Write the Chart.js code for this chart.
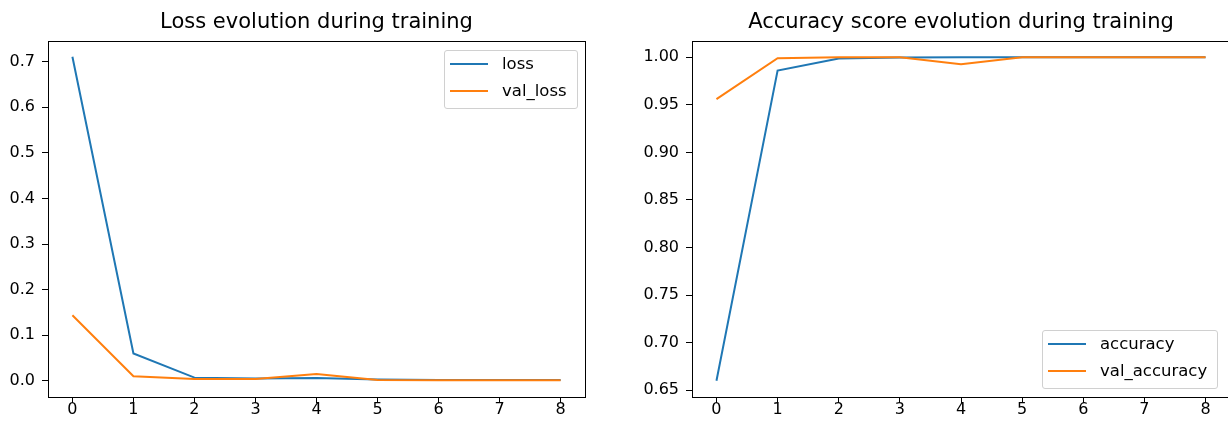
<!DOCTYPE html>
<html>
<head>
<meta charset="utf-8">
<script src="https://cdn.jsdelivr.net/npm/chart.js@4"></script>
<style>
    body { margin: 0; width: 1228px; height: 425px; overflow: hidden; background: #fff; position: relative; font-family: "DejaVu Sans", sans-serif; }
    canvas { position: absolute; top: 0; }
    .legend { position: absolute; border: 1px solid #d0d0d0; border-radius: 3px; background: rgba(255,255,255,0.8); padding: 3px 10px 7px 5px; font-size: 16.5px; color: #000; }
    .legend .row { height: 20px; line-height: 20px; display: flex; align-items: center; }
    .legend .row + .row { margin-top: 6.7px; }
    .legend .swatch { width: 38px; height: 2px; margin-right: 14px; }
</style>
</head>
<body>
<canvas id="lossChart" width="600" height="425" style="left:0"></canvas>
<canvas id="accChart" width="630" height="425" style="left:600px"></canvas>
<div id="lossLegend" class="legend" style="left:444px; top:50px"></div>
<div id="accLegend" class="legend" style="left:1042px; top:330px"></div>
<script>
const epochs = [0, 1, 2, 3, 4, 5, 6, 7, 8];
const loss = [0.711, 0.060, 0.007, 0.005, 0.006, 0.003, 0.002, 0.002, 0.002];
const valLoss = [0.144, 0.010, 0.004, 0.004, 0.015, 0.002, 0.0015, 0.0015, 0.0015];
const accuracy = [0.660, 0.986, 0.9986, 0.9997, 1.0, 1.0, 1.0, 1.0, 1.0];
const valAccuracy = [0.956, 0.999, 1.0, 1.0, 0.9926, 1.0, 1.0, 1.0, 1.0];

const lossTicks = [0.0, 0.1, 0.2, 0.3, 0.4, 0.5, 0.6, 0.7];
const accTicks = [0.65, 0.70, 0.75, 0.80, 0.85, 0.90, 0.95, 1.00];

const blue = '#1f77b4';
const orange = '#ff7f0e';
const font = { family: 'DejaVu Sans', size: 16, lineHeight: 1 };

// draws the top and right spines like matplotlib
const frame = {
    id: 'frame',
    afterDraw(chart) {
        const a = chart.chartArea;
        const c = chart.ctx;
        c.save();
        c.strokeStyle = '#000';
        c.lineWidth = 1;
        c.strokeRect(Math.round(a.left) + 0.5, Math.round(a.top) + 0.5, Math.round(a.right - a.left), Math.round(a.bottom - a.top));
        c.restore();
    }
};

function makeChart(id, title, series, ticks, decimals, yMin, yMax, yWidth) {
    const ctx = document.getElementById(id).getContext('2d');
    return new Chart(ctx, {
        type: 'line',
        data: {
            labels: epochs,
            datasets: series.map((s, i) => ({
                label: s.label,
                data: epochs.map((e, j) => ({ x: e, y: s.data[j] })),
                borderColor: s.color,
                backgroundColor: s.color,
                borderWidth: 2,
                pointRadius: 0,
                tension: 0,
                fill: false,
                order: series.length - i
            }))
        },
        options: {
            responsive: false,
            animation: false,
            layout: { padding: { right: id === 'lossChart' ? 15 : 0 } },
            plugins: {
                legend: { display: false },
                tooltip: { enabled: false },
                title: {
                    display: true,
                    text: title,
                    fullSize: false,
                    color: '#000',
                    font: { family: 'DejaVu Sans', size: 21, weight: 'normal', lineHeight: 1.2 },
                    padding: { top: 10.4, bottom: 5.4 }
                }
            },
            scales: {
                x: {
                    type: 'linear',
                    min: -0.4,
                    max: 8.4,
                    afterBuildTicks: scale => { scale.ticks = epochs.map(v => ({ value: v })); },
                    afterFit: scale => { scale.height = 28; },
                    grid: { drawOnChartArea: false, color: '#000', tickLength: 6 },
                    border: { color: '#000', width: 1 },
                    ticks: { color: '#000', font: font, padding: -1, maxRotation: 0, callback: v => String(v) }
                },
                y: {
                    min: yMin,
                    max: yMax,
                    afterBuildTicks: scale => { scale.ticks = ticks.map(v => ({ value: v })); },
                    afterFit: scale => { scale.width = yWidth; },
                    grid: { drawOnChartArea: false, color: '#000', tickLength: 6 },
                    border: { color: '#000', width: 1 },
                    ticks: { color: '#000', font: font, padding: 7, callback: v => v.toFixed(decimals) }
                }
            }
        },
        plugins: [frame]
    });
}

function buildLegend(chart, id) {
    const box = document.getElementById(id);
    chart.data.datasets.forEach(ds => {
        const row = document.createElement('div');
        row.className = 'row';
        const sw = document.createElement('span');
        sw.className = 'swatch';
        sw.style.background = ds.borderColor;
        const txt = document.createElement('span');
        txt.textContent = ds.label;
        row.appendChild(sw);
        row.appendChild(txt);
        box.appendChild(row);
    });
}

const lossChart = makeChart('lossChart', 'Loss evolution during training', [
    { label: 'loss', data: loss, color: blue },
    { label: 'val_loss', data: valLoss, color: orange }
], lossTicks, 1, -0.0355, 0.7455, 48);

const accChart = makeChart('accChart', 'Accuracy score evolution during training', [
    { label: 'accuracy', data: accuracy, color: blue },
    { label: 'val_accuracy', data: valAccuracy, color: orange }
], accTicks, 2, 0.643, 1.017, 92);

buildLegend(lossChart, 'lossLegend');
buildLegend(accChart, 'accLegend');
</script>
</body>
</html>
